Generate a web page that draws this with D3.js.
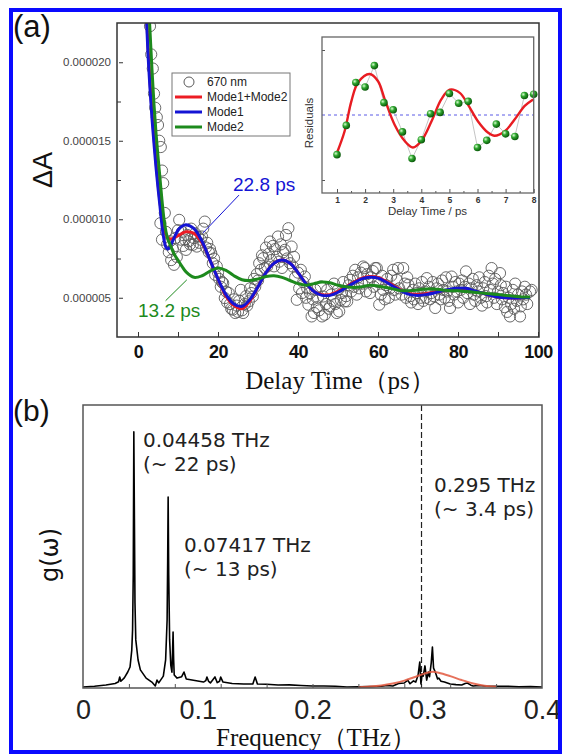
<!DOCTYPE html>
<html>
<head>
<meta charset="utf-8">
<script src="https://cdn.jsdelivr.net/npm/d3@7"></script>
<style>
body{margin:0;background:#fff;}
svg{display:block;}
</style>
</head>
<body>
<script>
// ---------- panel (a): 670 nm trace, values in units of 1e-6 ----------
const obs670 = [
[3.0,22.3],[3.3,20.5],[3.7,19.6],[4.0,18.0],[4.3,17.1],[4.7,16.5],[5.0,16.0],[5.3,15.0],[5.7,14.6],[6.0,13.1],
[6.3,12.3],[5.6,9.75],[6.0,8.7],[6.7,10.4],[7.0,9.2],[7.3,8.4],[7.7,7.9],[8.0,8.6],[8.3,7.4],[8.7,8.1],
[9.0,7.1],[9.3,8.8],[9.7,7.6],[10.0,9.3],[10.3,9.96],[10.7,8.7],[11.0,9.2],[11.3,8.3],[11.7,8.7],[12.0,8.05],
[12.3,9.0],[12.7,8.6],[13.0,8.4],[13.3,9.4],[13.7,8.37],[14.0,8.8],[14.3,9.1],[14.7,8.26],[15.0,8.9],[15.3,8.5],
[15.7,8.7],[16.0,8.9],[16.3,9.4],[16.7,9.85],[17.0,8.2],[17.3,8.5],[17.7,7.9],[18.0,8.1],[18.3,7.84],[18.7,7.2],
[19.0,7.5],[19.3,6.46],[19.7,7.0],[20.0,6.6],[20.3,6.2],[20.7,5.7],[21.0,6.0],[21.3,5.93],[21.7,4.98],[22.0,5.4],
[22.3,4.7],[22.7,5.3],[23.0,4.6],[23.3,4.3],[23.7,4.24],[24.0,4.9],[24.3,4.03],[24.7,4.5],[25.0,4.1],[25.3,4.8],
[25.7,5.5],[26.0,4.2],[26.3,4.03],[26.7,4.6],[27.0,5.1],[27.3,4.5],[27.7,4.77],[28.0,5.6],[28.3,5.3],[28.7,5.08],
[29.0,6.2],[29.3,5.7],[29.7,6.5],[30.0,6.1],[30.3,7.2],[30.7,6.78],[31.0,7.7],[31.3,7.52],[31.7,6.9],[32.0,8.2],
[32.3,6.99],[32.7,7.8],[33.0,8.58],[33.3,7.4],[33.7,8.3],[34.0,7.0],[34.3,8.1],[34.7,7.6],[35.0,8.9],[35.3,7.3],
[35.7,8.4],[36.0,6.9],[36.3,7.9],[36.7,8.05],[37.0,9.0],[37.3,7.5],[37.6,9.43],[38.0,7.2],[38.4,8.26],[38.7,6.99],
[39.0,7.6],[39.3,6.3],[39.7,4.87],[40.0,6.6],[40.3,5.6],[40.7,6.78],[41.0,5.3],[41.3,6.0],[41.7,6.35],[42.0,5.0],
[42.3,5.6],[42.6,4.56],[43.0,5.3],[43.4,3.81],[43.7,4.9],[44.0,4.03],[44.3,5.5],[44.7,4.4],[45.0,5.0],[45.3,4.2],
[45.7,5.72],[46.0,3.81],[46.3,5.08],[46.7,3.92],[47.0,4.6],[47.3,5.5],[47.7,4.3],[48.0,4.45],[48.3,5.2],[48.7,4.8],
[49.0,5.9],[49.3,4.6],[49.7,4.03],[50.0,5.5],[50.3,4.13],[50.7,4.87],[51.0,5.3],[51.3,6.0],[51.7,4.77],[52.0,5.1],
[52.3,4.77],[52.7,5.8],[53.0,6.14],[53.3,5.4],[53.7,6.4],[54.0,5.7],[54.3,6.78],[54.7,5.2],[55.0,6.3],[55.3,5.6],
[55.7,6.6],[56.0,5.9],[56.3,6.99],[56.7,6.89],[57.0,5.4],[57.3,6.5],[57.7,6.0],[58.0,5.3],[58.3,6.3],[58.7,6.7],
[59.0,5.7],[59.3,6.89],[59.7,6.89],[60.0,6.0],[60.3,4.56],[60.7,5.2],[61.0,6.4],[61.3,5.5],[61.7,4.9],[62.0,5.8],
[62.3,6.2],[62.7,5.0],[63.0,5.6],[63.3,6.4],[63.8,6.78],[64.0,5.5],[64.3,5.2],[64.7,6.14],[65.0,6.89],[65.3,5.6],
[65.9,5.2],[66.3,6.89],[66.7,5.9],[67.0,5.0],[67.3,6.3],[67.6,5.83],[68.0,5.1],[68.3,4.7],[68.7,5.5],[69.0,4.9],
[69.3,5.9],[69.7,5.3],[70.0,4.6],[70.3,5.6],[70.7,5.0],[71.0,6.0],[71.3,4.8],[71.7,5.4],[72.0,5.0],[72.2,6.25],
[72.7,5.7],[73.0,4.9],[73.3,5.3],[73.7,6.0],[74.0,5.1],[74.3,4.35],[74.7,5.6],[75.0,5.9],[75.3,5.2],[75.7,4.9],
[76.0,6.1],[76.3,5.5],[76.7,5.0],[77.0,6.3],[77.3,5.4],[77.7,4.8],[78.0,4.35],[78.4,6.35],[78.7,5.7],[79.0,5.2],
[79.3,6.0],[79.7,5.4],[80.0,4.7],[80.3,5.9],[80.7,5.5],[81.0,6.1],[81.3,5.0],[81.7,5.7],[82.0,6.68],[82.3,5.3],
[82.7,5.9],[83.0,4.6],[83.3,5.6],[83.7,6.2],[84.0,5.2],[84.3,4.8],[84.7,5.8],[85.0,5.4],[85.3,6.3],[85.7,5.0],
[86.0,4.5],[86.3,5.6],[86.7,6.0],[87.0,5.1],[87.3,4.7],[87.7,6.4],[88.0,5.5],[88.4,6.89],[88.7,5.9],[89.0,5.0],
[89.3,6.2],[89.7,4.6],[90.0,5.4],[90.5,6.57],[90.7,5.8],[91.0,4.9],[91.3,5.3],[91.7,4.4],[92.0,5.7],[92.3,4.1],
[92.7,5.0],[93.0,3.81],[93.3,4.6],[93.7,5.5],[94.0,4.3],[94.3,5.9],[94.7,4.8],[95.0,5.2],[95.5,3.81],[95.7,4.45],
[96.0,5.4],[96.3,4.9],[96.7,5.7],[97.0,5.2],[97.3,4.6],[98.0,5.4],[98.4,5.5]
];

const fitTime = [1.5,2,2.5,3,3.5,4,4.5,5,5.5,6,6.5,7,7.5,8,9,10,11,12,14,16,18,20,22,24,26,28,30,32,34,36,38,40,42,44,46,48,50,52,54,56,58,60,62,64,66,68,70,72,74,76,78,80,82,84,86,88,90,92,94,96,98];
const fitSum   = [27.5,24,21,18.8,16.9,15.2,13.7,12.3,11.1,10.1,9.4,9.0,8.8,8.75,8.8,8.95,9.1,9.2,9.1,8.5,7.4,6.2,5.1,4.5,4.3,4.8,5.7,6.6,7.2,7.4,7.2,6.6,5.9,5.4,5.2,5.2,5.4,5.7,6.0,6.25,6.35,6.3,6.05,5.75,5.45,5.25,5.2,5.25,5.35,5.45,5.5,5.55,5.5,5.4,5.3,5.15,5.05,5.0,4.98,5.0,5.02];
const fitMode1 = [27,23.5,20.5,18.3,16.4,14.8,13.3,12.0,10.8,9.6,8.7,8.2,8.1,8.25,8.8,9.3,9.55,9.65,9.4,8.6,7.4,6.2,5.2,4.6,4.45,4.9,5.7,6.6,7.2,7.4,7.2,6.6,5.9,5.4,5.15,5.15,5.35,5.65,5.95,6.2,6.3,6.25,6.0,5.7,5.4,5.2,5.15,5.2,5.3,5.45,5.55,5.6,5.6,5.45,5.3,5.15,5.05,5.0,4.98,5.0,5.02];
const fitMode2 = [32,28,24.5,22,19.5,17.3,15.5,14.0,12.6,11.2,10.0,9.2,8.7,8.4,7.8,7.4,7.0,6.65,6.3,6.4,6.7,6.9,6.75,6.4,6.15,6.1,6.2,6.35,6.4,6.3,6.1,5.9,5.8,5.9,6.0,5.95,5.8,5.7,5.65,5.7,5.8,5.75,5.65,5.55,5.45,5.45,5.5,5.55,5.55,5.5,5.45,5.45,5.4,5.35,5.3,5.25,5.2,5.15,5.1,5.05,5.05];

const yTicksA = [5,10,15,20];
const xTicksA = [0,20,40,60,80,100];

// inset residuals
const resTime = [1,1.33,1.67,2,2.33,2.67,3,3.33,3.67,4,4.33,4.67,5,5.33,5.67,6,6.33,6.67,7,7.33,7.67,8];
const resValue = [-0.61,-0.16,0.50,0.43,0.76,0.19,0.08,-0.26,-0.67,-0.38,0.02,0.04,0.33,0.18,0.21,-0.50,-0.39,-0.14,-0.29,-0.33,0.30,0.32];
const resFitTime = [1.0,1.27,1.51,1.75,2.16,2.46,2.70,3.05,3.41,3.70,4.0,4.36,4.71,5.01,5.37,5.66,6.02,6.37,6.61,6.97,7.32,7.68,7.98];
const resFitValue = [-0.58,-0.25,0.21,0.50,0.63,0.52,0.24,-0.15,-0.40,-0.50,-0.40,-0.10,0.24,0.39,0.34,0.16,-0.10,-0.27,-0.32,-0.25,-0.07,0.14,0.24];

// ---------- panel (b): spectrum g(w), arbitrary units ----------
const spectrum = [
[0,0.35],[0.01,0.6],[0.02,1.06],[0.028,1.6],[0.031,2.2],[0.032,3.9],[0.033,2.4],[0.036,3.6],[0.039,5.65],[0.041,7.42],
[0.0425,13.4],[0.0432,20.5],[0.0438,40],[0.0443,90.5],[0.0448,60],[0.0453,30],[0.046,17.0],[0.048,9.9],[0.05,6.4],[0.055,3.5],
[0.06,2.1],[0.063,0.7],[0.0645,2.8],[0.066,1.8],[0.07,4.2],[0.072,9.9],[0.0733,24],[0.0738,45],[0.0742,67.5],[0.0747,40],
[0.0755,17],[0.0765,8.1],[0.0775,5.6],[0.078,12],[0.0785,19.8],[0.079,10],[0.0795,4.6],[0.082,3.5],[0.086,4],[0.088,5.65],
[0.09,3.2],[0.1,2.5],[0.105,2.1],[0.107,2.6],[0.108,3.9],[0.1095,2.3],[0.111,1.8],[0.115,3.9],[0.117,1.9],[0.119,2.4],
[0.12,3.9],[0.122,2.1],[0.13,1.6],[0.14,1.4],[0.148,1.4],[0.15,3.9],[0.152,1.4],[0.16,1.3],[0.17,1.06],[0.18,1.1],
[0.19,0.9],[0.2,0.7],[0.21,0.7],[0.22,0.6],[0.23,0.35],[0.24,0.4],[0.25,0.5],[0.26,0.6],[0.265,0.9],[0.27,0.7],
[0.275,1.6],[0.28,1.77],[0.283,2.8],[0.285,1.5],[0.288,2.5],[0.29,2.1],[0.292,4.5],[0.2935,9.2],[0.2945,1.4],[0.2955,5],
[0.2965,4.2],[0.298,7.8],[0.2995,2.8],[0.301,5.6],[0.302,4],[0.3035,9],[0.3045,14.5],[0.3055,7],[0.307,5.65],[0.309,3.2],
[0.31,3.5],[0.312,2.4],[0.315,2.1],[0.32,1.4],[0.325,1.2],[0.33,1.06],[0.333,1.6],[0.335,1.77],[0.338,1.0],[0.34,0.7],
[0.345,0.9],[0.35,0.7],[0.36,0.6],[0.37,0.6],[0.38,0.4],[0.39,0.5],[0.4,0.35]
];
const specFitFreq = [0.24,0.25,0.26,0.27,0.28,0.29,0.30,0.305,0.31,0.32,0.33,0.34,0.35,0.36];
const specFitG    = [0.3,0.5,0.9,1.6,2.6,4.0,5.4,5.7,5.4,4.2,2.8,1.6,0.8,0.4];
const xTicksB = [0,0.1,0.2,0.3,0.4];
const peakLabels = [
  {f:0.04458, l1:"0.04458 THz", l2:"(~ 22 ps)"},
  {f:0.07417, l1:"0.07417 THz", l2:"(~ 13 ps)"},
  {f:0.295,   l1:"0.295 THz",   l2:"(~ 3.4 ps)"}
];

const w = 564, h = 756;
const svg = d3.select("body").append("svg").attr("width", w).attr("height", h);
svg.append("rect").attr("width", w).attr("height", h).attr("fill", "#fff");

const defs = svg.append("defs");
defs.append("clipPath").attr("id","clipA").append("rect")
  .attr("x",117).attr("y",23).attr("width",422).attr("height",314);
const grad = defs.append("radialGradient").attr("id","ball").attr("cx","35%").attr("cy","35%").attr("r","65%");
grad.append("stop").attr("offset","0%").attr("stop-color","#d8ffd0");
grad.append("stop").attr("offset","45%").attr("stop-color","#2ea52e");
grad.append("stop").attr("offset","100%").attr("stop-color","#0b5a0b");

//////// panel (a)
const xA = d3.scaleLinear().domain([-5.25,100.25]).range([117,539]);
const yA = d3.scaleLinear().domain([2.5,22.5]).range([337,23]);

const gA = svg.append("g");
gA.append("g").attr("clip-path","url(#clipA)")
  .selectAll("circle").data(obs670).enter().append("circle")
  .attr("cx", d=>xA(d[0])).attr("cy", d=>yA(d[1])).attr("r",5.6)
  .attr("fill","none").attr("stroke","#5a5a5a").attr("stroke-width",0.9);

const fitLine = vals => d3.line().curve(d3.curveCatmullRom)
  .x((d,i)=>xA(fitTime[i])).y(d=>yA(d))(vals);
const curves = gA.append("g").attr("clip-path","url(#clipA)").attr("fill","none").attr("stroke-width",3);
curves.append("path").attr("d",fitLine(fitSum)).attr("stroke","#ec1c24");
curves.append("path").attr("d",fitLine(fitMode1)).attr("stroke","#1414d4");
curves.append("path").attr("d",fitLine(fitMode2)).attr("stroke","#1d8a1d");

// axes
const xAxisA = d3.axisBottom(xA).tickValues(d3.range(0,101,10)).tickSize(-5).tickPadding(8)
  .tickFormat(d => d%20===0 ? d : "");
gA.append("g").attr("transform","translate(0,337)").call(xAxisA)
  .call(g=>g.select(".domain").remove())
  .call(g=>g.selectAll("line").attr("stroke","#333"))
  .call(g=>g.selectAll("text").attr("font-family","Liberation Sans, Arial").attr("font-weight","bold")
    .attr("font-size",18).attr("letter-spacing",-0.5).attr("fill","#111"));

const yAxisA = d3.axisLeft(yA).tickValues(yTicksA).tickSize(-6).tickPadding(6)
  .tickFormat(d => (d*1e-6).toFixed(6));
gA.append("g").attr("transform","translate(117,0)").call(yAxisA)
  .call(g=>g.select(".domain").remove())
  .call(g=>g.selectAll("line").attr("stroke","#333").attr("x1",2))
  .call(g=>g.selectAll("text").attr("font-family","Liberation Sans, Arial").attr("font-size",11.5).attr("fill","#444"));
gA.append("g").attr("transform","translate(117,0)")
  .call(d3.axisLeft(yA).tickValues([7.5,12.5,17.5]).tickSize(-4).tickFormat(""))
  .call(g=>g.select(".domain").remove())
  .call(g=>g.selectAll("line").attr("stroke","#333"));

gA.append("rect").attr("x",117).attr("y",23).attr("width",422).attr("height",314)
  .attr("fill","none").attr("stroke","#333").attr("stroke-width",1.5);

// legend
const leg = gA.append("g");
leg.append("rect").attr("x",172).attr("y",73).attr("width",118).attr("height",63)
  .attr("fill","#fff").attr("stroke","#777").attr("stroke-width",1);
leg.append("circle").attr("cx",189).attr("cy",82).attr("r",5).attr("fill","none").attr("stroke","#5a5a5a");
const legItems = [["Mode1+Mode2","#ec1c24"],["Mode1","#1414d4"],["Mode2","#1d8a1d"]];
legItems.forEach((d,i)=>{
  leg.append("line").attr("x1",175).attr("x2",202).attr("y1",97+i*15).attr("y2",97+i*15)
    .attr("stroke",d[1]).attr("stroke-width",3);
});
["670 nm"].concat(legItems.map(d=>d[0])).forEach((t,i)=>{
  leg.append("text").attr("x",207).attr("y",86+i*15).text(t)
    .attr("font-family","Liberation Sans, Arial").attr("font-size",12).attr("fill","#222");
});

// period annotations
gA.append("line").attr("x1",xA(25.25)).attr("y1",yA(11.54)).attr("x2",xA(16.25)).attr("y2",yA(9.13))
  .attr("stroke","#1414d4").attr("stroke-width",1);
gA.append("text").attr("x",xA(23.75)).attr("y",yA(11.8)).text("22.8 ps")
  .attr("font-family","Liberation Sans, Arial").attr("font-size",19).attr("fill","#1414d4");
gA.append("line").attr("x1",xA(6.9)).attr("y1",yA(4.81)).attr("x2",xA(12.2)).attr("y2",yA(6.14))
  .attr("stroke","#1d8a1d").attr("stroke-width",1);
gA.append("text").attr("x",xA(0)).attr("y",yA(3.75)).text("13.2 ps")
  .attr("font-family","Liberation Sans, Arial").attr("font-size",19).attr("fill","#1d8a1d");

gA.append("text").attr("transform","translate(52,170) rotate(-90)").attr("text-anchor","middle")
  .text("ΔA").attr("font-family","Liberation Sans, Arial").attr("font-size",27).attr("fill","#111");
gA.append("text").attr("x",340).attr("y",389).attr("text-anchor","middle").text("Delay Time（ps）")
  .attr("font-family","Liberation Serif, Times New Roman, serif").attr("font-size",25).attr("fill","#111");
svg.append("text").attr("x",13).attr("y",37).text("(a)")
  .attr("font-family","Liberation Sans, Arial").attr("font-size",31).attr("fill","#111");

//////// inset
const xI = d3.scaleLinear().domain([0.466,8]).range([322,533.7]);
const yI = d3.scaleLinear().domain([-1.2,1.2]).range([193,37]);
const gI = svg.append("g");
gI.append("rect").attr("x",322).attr("y",37).attr("width",211.7).attr("height",156).attr("fill","#fff");
gI.append("line").attr("x1",322).attr("x2",533.7).attr("y1",yI(0)).attr("y2",yI(0))
  .attr("stroke","#5b5be6").attr("stroke-width",1).attr("stroke-dasharray","3,3");
gI.append("path").attr("d", d3.line().x((d,i)=>xI(resTime[i])).y(d=>yI(d))(resValue))
  .attr("fill","none").attr("stroke","#aaa").attr("stroke-width",0.7);
gI.append("path").attr("d", d3.line().curve(d3.curveCatmullRom).x((d,i)=>xI(resFitTime[i])).y(d=>yI(d))(resFitValue))
  .attr("fill","none").attr("stroke","#e81c22").attr("stroke-width",2.4);
gI.selectAll("circle.res").data(resValue).enter().append("circle").attr("class","res")
  .attr("cx",(d,i)=>xI(resTime[i])).attr("cy",d=>yI(d)).attr("r",3.8).attr("fill","url(#ball)");
gI.append("g").attr("transform","translate(0,193)")
  .call(d3.axisBottom(xI).tickValues(d3.range(1,9)).tickSize(-4).tickPadding(4))
  .call(g=>g.select(".domain").remove())
  .call(g=>g.selectAll("line").attr("stroke","#555"))
  .call(g=>g.selectAll("text").attr("font-family","Liberation Sans, Arial").attr("font-weight","bold")
    .attr("font-size",8.5).attr("fill","#333"));
gI.append("g").attr("transform","translate(0,193)")
  .call(d3.axisBottom(xI).tickValues(d3.range(1.5,8,1)).tickSize(-2).tickFormat(""))
  .call(g=>g.select(".domain").remove()).call(g=>g.selectAll("line").attr("stroke","#555"));
gI.append("g").attr("transform","translate(322,0)")
  .call(d3.axisLeft(yI).tickValues([-1,1]).tickSize(-3).tickFormat(""))
  .call(g=>g.select(".domain").remove()).call(g=>g.selectAll("line").attr("stroke","#555"));
gI.append("rect").attr("x",322).attr("y",37).attr("width",211.7).attr("height",156)
  .attr("fill","none").attr("stroke","#666").attr("stroke-width",1.3);
gI.append("text").attr("x",427.5).attr("y",215).attr("text-anchor","middle").text("Delay Time / ps")
  .attr("font-family","Liberation Sans, Arial").attr("font-size",11.5).attr("fill","#333");
gI.append("text").attr("transform","translate(313,123) rotate(-90)").attr("text-anchor","middle").text("Residuals")
  .attr("font-family","Liberation Sans, Arial").attr("font-size",11.5).attr("fill","#333");

//////// panel (b)
const xB = d3.scaleLinear().domain([0,0.4]).range([83,542]);
const yB = d3.scaleLinear().domain([0,100]).range([688,405]);
const gB = svg.append("g");
gB.append("line").attr("x1",xB(0.295)).attr("x2",xB(0.295)).attr("y1",405).attr("y2",688)
  .attr("stroke","#222").attr("stroke-width",1.2).attr("stroke-dasharray","6,3");
gB.append("path").attr("d", d3.line().x(d=>xB(d[0])).y(d=>yB(d[1]))(spectrum))
  .attr("fill","none").attr("stroke","#000").attr("stroke-width",1.6).attr("stroke-linejoin","round");
gB.append("path").attr("d", d3.line().curve(d3.curveCatmullRom).x((d,i)=>xB(specFitFreq[i])).y(d=>yB(d))(specFitG))
  .attr("fill","none").attr("stroke","#e2583e").attr("stroke-width",2).attr("opacity",0.85);

gB.append("g").attr("transform","translate(0,688)")
  .call(d3.axisBottom(xB).tickValues(d3.range(0.04,0.4,0.04)).tickSize(-4).tickFormat(""))
  .call(g=>g.select(".domain").remove()).call(g=>g.selectAll("line").attr("stroke","#555"));
gB.append("g").attr("transform","translate(0,688)")
  .call(d3.axisBottom(xB).tickValues(xTicksB).tickSize(0).tickPadding(12).tickFormat(d=>d===0?"0":d))
  .call(g=>g.select(".domain").remove())
  .call(g=>g.selectAll("text").attr("font-family","Liberation Sans, Arial").attr("font-size",27).attr("fill","#222"));
gB.append("rect").attr("x",83).attr("y",405).attr("width",459).attr("height",283)
  .attr("fill","none").attr("stroke","#555").attr("stroke-width",1.5);

const labelPos = [[143,447],[184,552],[434,492]];
peakLabels.forEach((p,i)=>{
  const t = gB.append("text").attr("font-family","DejaVu Sans, Verdana").attr("font-size",20).attr("fill","#222");
  t.append("tspan").attr("x",labelPos[i][0]).attr("y",labelPos[i][1]).text(p.l1);
  t.append("tspan").attr("x",labelPos[i][0]).attr("y",labelPos[i][1]+24).text(p.l2);
});
gB.append("text").attr("transform","translate(58,555) rotate(-90)").attr("text-anchor","middle").text("g(ω)")
  .attr("font-family","DejaVu Sans, Verdana").attr("font-size",24).attr("fill","#111");
gB.append("text").attr("x",316).attr("y",746).attr("text-anchor","middle").text("Frequency（THz）")
  .attr("font-family","Liberation Serif, Times New Roman, serif").attr("font-size",25).attr("fill","#111");
svg.append("text").attr("x",13).attr("y",421).text("(b)")
  .attr("font-family","Liberation Sans, Arial").attr("font-size",30).attr("fill","#111");

// blue frame round the figure
svg.append("rect").attr("x",11).attr("y",10).attr("width",549).attr("height",742)
  .attr("fill","none").attr("stroke","#0a0aff").attr("stroke-width",4);
</script>
</body>
</html>
